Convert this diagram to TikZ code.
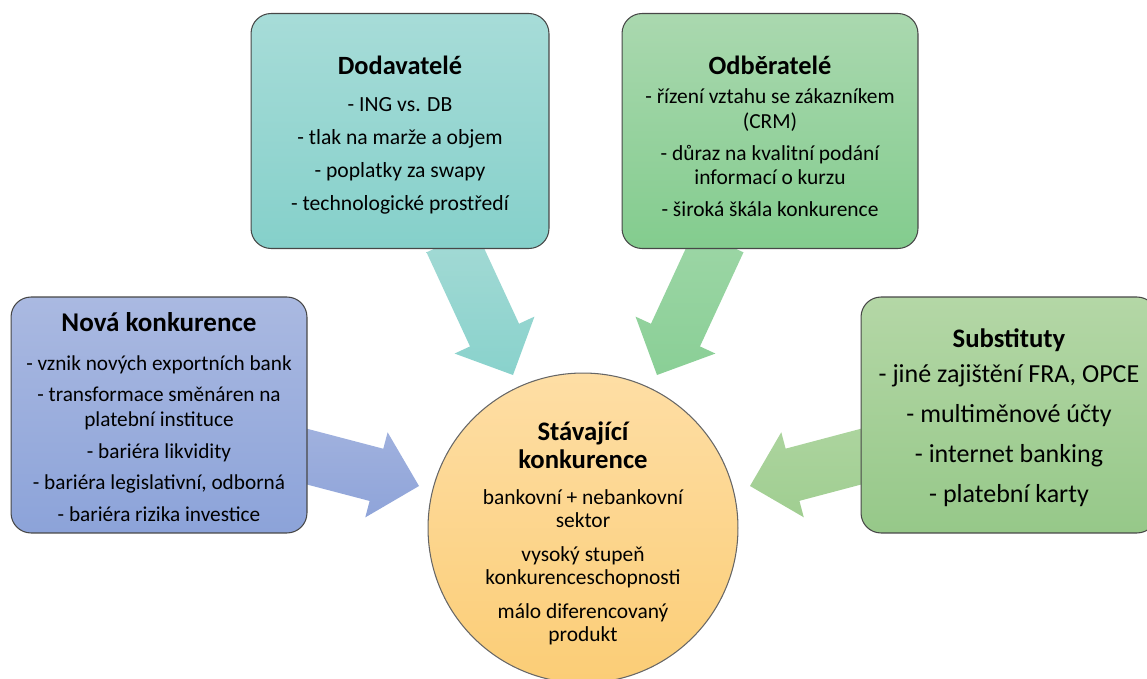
\documentclass[tikz,border=0pt]{standalone}
\usepackage{fontspec}
\setmainfont{Carlito}
\usetikzlibrary{calc}

% Block arrow from #2 (start of shaft) to #3 (tip), named #1, styled #4
\newcommand\blockarrow[4]{%
  \coordinate (#1-s) at (#2);
  \coordinate (#1-t) at (#3);
  \coordinate (#1-h) at ($(#1-t)!0.88cm!(#1-s)$);
  \shade[#4]
    ($(#1-s)!0.54cm!90:(#1-t)$) --
    ($(#1-h)!0.54cm!90:(#1-t)$) --
    ($(#1-h)!0.88cm!90:(#1-t)$) --
    (#1-t) --
    ($(#1-h)!0.88cm!-90:(#1-t)$) --
    ($(#1-h)!0.54cm!-90:(#1-t)$) --
    ($(#1-s)!0.54cm!-90:(#1-t)$) -- cycle;
}

% body font of a size #1 with a fixed baseline distance #2
\newcommand\bodyfont[2]{\fontsize{#1}{#2}\selectfont\lineskiplimit=-100pt\relax}

\tikzset{
  force/.style={rectangle, rounded corners=0.4cm, draw=black!72, line width=0.6pt,
    minimum height=4.7cm, inner sep=0pt},
  hub/.style={circle, draw=black!60, line width=0.6pt, minimum size=6.2cm, inner sep=0pt},
  txt/.style={align=center, inner sep=0pt},
}

\begin{document}
\begin{tikzpicture}[x=0.02cm, y=0.02cm]
\useasboundingbox (0,0) rectangle (1147,-679);

% arrows pointing into the centre
\blockarrow{aDod}{451,-241}{513,-375}{top color={rgb,255:red,164;green,218;blue,213}, bottom color={rgb,255:red,137;green,210;blue,204}}
\blockarrow{aOdb}{719,-241}{657,-375}{top color={rgb,255:red,157;green,214;blue,166}, bottom color={rgb,255:red,138;green,207;blue,150}}
\blockarrow{aNov}{297,-454}{419,-486}{top color={rgb,255:red,160;green,177;blue,222}, bottom color={rgb,255:red,143;green,164;blue,217}}
\blockarrow{aSub}{871,-454}{750,-486}{top color={rgb,255:red,172;green,212;blue,158}, bottom color={rgb,255:red,160;green,206;blue,145}}

% the five shapes
\node[force, minimum width=5.96cm,
  top color={rgb,255:red,167;green,220;blue,216}, bottom color={rgb,255:red,133;green,208;blue,202}] (dod) at (400,-131) {};
\node[force, minimum width=5.92cm,
  top color={rgb,255:red,170;green,216;blue,175}, bottom color={rgb,255:red,131;green,204;blue,142}] (odb) at (770,-131) {};
\node[force, minimum width=5.92cm, minimum height=4.72cm,
  top color={rgb,255:red,170;green,185;blue,225}, bottom color={rgb,255:red,140;green,163;blue,217}] (nov) at (159,-415) {};
\node[force, minimum width=5.92cm, minimum height=4.72cm,
  top color={rgb,255:red,180;green,215;blue,166}, bottom color={rgb,255:red,150;green,200;blue,137}] (sub) at (1009,-415) {};
\node[hub,
  top color={rgb,255:red,254;green,222;blue,165}, bottom color={rgb,255:red,251;green,205;blue,118}] (sta) at (583,-528) {};

% supplier text
\node[txt, font=\bodyfont{12.3}{18.7}] (dod-t) at ([yshift=-0.08cm]dod.center)
  {{\bfseries\fontsize{15}{17}\selectfont Dodavatelé}\\[2.8pt]
   - ING vs. DB\\
   - tlak na marže a objem\\
   - poplatky za swapy\\
   - technologické prostředí};

% customer text
\node[txt, font=\bodyfont{12.2}{14}] (odb-t) at ([yshift=-0.1cm]odb.center)
  {{\bfseries\fontsize{15}{17}\selectfont Odběratelé}\\[3pt]
   - řízení vztahu se zákazníkem\\
   (CRM)\\[4pt]
   - důraz na kvalitní podání\\
   informací o kurzu\\[4pt]
   - široká škála konkurence};

% new entrants text
\node[txt, font=\bodyfont{12.1}{14.2}] (nov-t) at ([yshift=-0.04cm]nov.center)
  {{\bfseries\fontsize{15.4}{17}\selectfont Nová konkurence}\\[7.8pt]
   - vznik nových exportních bank\\[3.8pt]
   - transformace směnáren na\\
   platební instituce\\[3.8pt]
   - bariéra likvidity\\[3.8pt]
   - bariéra legislativní, odborná\\[3.8pt]
   - bariéra rizika investice};

% substitutes text
\node[txt, font=\bodyfont{14.8}{16}] (sub-t) at ([yshift=-0.05cm]sub.center)
  {{\bfseries\fontsize{15.2}{17}\selectfont Substituty}\\[4pt]
   - jiné zajištění FRA, OPCE\\[6.7pt]
   - multiměnové účty\\[6.7pt]
   - internet banking\\[6.7pt]
   - platební karty};

% existing rivalry text
\node[txt, font=\bodyfont{12.2}{13}] (sta-t) at ([yshift=-0.1cm]sta.center)
  {{\bfseries\fontsize{15.2}{16}\selectfont Stávající}\\[3.4pt]
   {\bfseries\fontsize{15.2}{16}\selectfont konkurence}\\[7.4pt]
   bankovní + nebankovní\\
   sektor\\[6.3pt]
   vysoký stupeň\\
   konkurenceschopnosti\\[6.3pt]
   málo diferencovaný\\
   produkt};
\end{tikzpicture}
\end{document}
